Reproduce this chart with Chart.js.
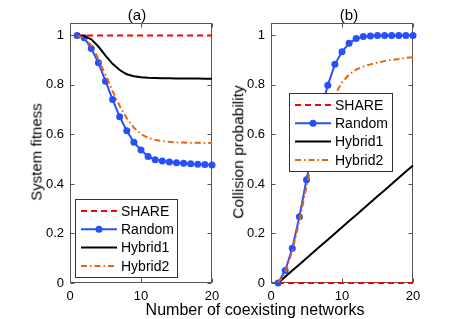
<!DOCTYPE html>
<html lang="en">
<head>
<meta charset="UTF-8">
<title>System fitness / Collision probability</title>
<script src="https://cdn.jsdelivr.net/npm/chart.js"></script>
<style>
  body { margin:0; background:#fff; width:457px; height:319px; overflow:hidden; position:relative;
         font-family:"Liberation Sans", Arial, sans-serif; color:#000; }
  canvas { position:absolute; top:0; }
  #chartA { left:0; }
  #chartB { left:230px; }
  .lbl { position:absolute; white-space:nowrap; line-height:1; transform:translate(-50%,-50%); }
  .rot { transform:translate(-50%,-50%) rotate(-90deg); }
</style>
</head>
<body>
<canvas id="chartA" width="230" height="319"></canvas>
<canvas id="chartB" width="227" height="319"></canvas>
<div class="lbl" style="left:137px; top:13.5px; font-size:15px">(a)</div>
<div class="lbl" style="left:349px; top:13.5px; font-size:15px">(b)</div>
<div class="lbl rot" style="left:35.5px; top:152px; font-size:15px">System fitness</div>
<div class="lbl rot" style="left:238px; top:152px; font-size:15.5px">Collision probability</div>
<div class="lbl" style="left:255px; top:309.5px; font-size:16px">Number of coexisting networks</div>

<script>
// number of coexisting networks
const xs = [1,2,3,4,5,6,7,8,9,10,11,12,13,14,15,16,17,18,19,20];

// (a) system fitness
const fitShare   = [1,1,1,1,1,1,1,1,1,1,1,1,1,1,1,1,1,1,1,1];
const fitRandom  = [1.0,0.99,0.947,0.889,0.815,0.741,0.671,0.615,0.568,0.537,0.511,0.498,0.493,0.489,0.486,0.484,0.482,0.480,0.479,0.477];
const fitHybrid1 = [1.0,0.997,0.984,0.955,0.918,0.885,0.860,0.843,0.835,0.831,0.829,0.828,0.827,0.827,0.826,0.826,0.826,0.826,0.825,0.825];
const fitHybrid2 = [1.0,0.99,0.96,0.905,0.84,0.775,0.715,0.665,0.627,0.601,0.586,0.578,0.573,0.570,0.568,0.567,0.566,0.566,0.565,0.565];

// (b) collision probability
const colShare   = [0,0,0,0,0,0,0,0,0,0,0,0,0,0,0,0,0,0,0,0];
const colRandom  = [0,0.05,0.14,0.268,0.417,0.56,0.69,0.799,0.883,0.934,0.968,0.987,0.995,0.998,1,1,1,1,1,1];
const colHybrid1 = [0,0.025,0.05,0.075,0.1,0.125,0.15,0.175,0.2,0.225,0.25,0.275,0.3,0.325,0.35,0.375,0.4,0.425,0.45,0.475];
const colHybrid2 = [0,0.04,0.13,0.25,0.39,0.52,0.62,0.70,0.76,0.81,0.842,0.862,0.874,0.883,0.89,0.896,0.901,0.905,0.909,0.912];

const xTicks = [0, 10, 20];
const yTicks = [0, 0.2, 0.4, 0.6, 0.8, 1];
const seriesNames = ['SHARE', 'Random', 'Hybrid1', 'Hybrid2'];

const FONT = '"Liberation Sans", Arial, sans-serif';
const RED = '#ff0000', BLUE = 'rgb(40,80,250)', BLACK = '#000', ORANGE = '#e2660e';

function pts(vals) { return xs.map((x, i) => ({ x: x, y: vals[i] })); }

function makeDatasets(share, random, hyb1, hyb2) {
    return [
        { label: seriesNames[0], data: pts(share), borderColor: RED, borderWidth: 2, borderDash: [6, 4], pointRadius: 0, order: 4 },
        { label: seriesNames[1], data: pts(random), borderColor: BLUE, backgroundColor: BLUE, borderWidth: 2, pointRadius: 3.5, pointBorderWidth: 0, pointBackgroundColor: BLUE, order: 3 },
        { label: seriesNames[2], data: pts(hyb1), borderColor: BLACK, borderWidth: 2, pointRadius: 0, order: 2 },
        { label: seriesNames[3], data: pts(hyb2), borderColor: ORANGE, borderWidth: 2, borderDash: [6, 3, 1.5, 3], pointRadius: 0, order: 1 }
    ];
}

// matlab style box with inward ticks
const framePlugin = {
    id: 'frame',
    beforeDatasetsDraw(chart) {
        const { ctx, chartArea: a, scales } = chart;
        const L = Math.round(a.left) + 0.5, R = Math.round(a.right) - 0.5;
        const T = Math.round(a.top) + 0.5, B = Math.round(a.bottom) - 0.5;
        ctx.save();
        ctx.strokeStyle = '#555';
        ctx.lineWidth = 1;
        ctx.strokeRect(L, T, R - L, B - T);
        ctx.beginPath();
        scales.x.ticks.forEach(t => {
            const px = Math.round(scales.x.getPixelForValue(t.value)) + 0.5;
            ctx.moveTo(px, B); ctx.lineTo(px, B - 4);
            ctx.moveTo(px, T); ctx.lineTo(px, T + 4);
        });
        scales.y.ticks.forEach(t => {
            const py = Math.round(scales.y.getPixelForValue(t.value)) + 0.5;
            ctx.moveTo(L, py); ctx.lineTo(L + 4, py);
            ctx.moveTo(R, py); ctx.lineTo(R - 4, py);
        });
        ctx.stroke();
        ctx.restore();
    }
};

// legend box inside the axes
const boxLegend = {
    id: 'boxLegend',
    afterDatasetsDraw(chart, args, opts) {
        const { ctx } = chart;
        const { x, y, w, h } = opts;
        ctx.save();
        ctx.fillStyle = '#fff';
        ctx.fillRect(x, y, w, h);
        ctx.strokeStyle = '#333';
        ctx.lineWidth = 1;
        ctx.strokeRect(x + 0.5, y + 0.5, w, h);
        ctx.font = '14px ' + FONT;
        ctx.textBaseline = 'middle';
        chart.data.datasets.forEach((ds, i) => {
            const cy = y + 12 + i * 18.3;
            ctx.strokeStyle = ds.borderColor;
            ctx.lineWidth = ds.borderWidth;
            ctx.setLineDash(ds.borderDash || []);
            ctx.beginPath();
            ctx.moveTo(x + 6, cy);
            ctx.lineTo(x + 42, cy);
            ctx.stroke();
            ctx.setLineDash([]);
            if (ds.pointRadius > 0) {
                ctx.fillStyle = ds.borderColor;
                ctx.beginPath();
                ctx.arc(x + 24, cy, ds.pointRadius, 0, Math.PI * 2);
                ctx.fill();
            }
            ctx.fillStyle = '#000';
            ctx.fillText(ds.label, x + 46, cy + 1);
        });
        ctx.restore();
    }
};

function makeConfig(datasets, yWidth, padRight, legendBox) {
    return {
        type: 'line',
        data: { datasets: datasets.map(d => Object.assign({ fill: false, tension: 0, clip: false }, d)) },
        options: {
            responsive: false,
            animation: false,
            layout: { padding: { top: 23, right: padRight, bottom: 0, left: 0 } },
            plugins: { legend: { display: false }, tooltip: { enabled: false }, boxLegend: legendBox },
            scales: {
                x: {
                    type: 'linear', min: 0, max: 20,
                    afterBuildTicks(s) { s.ticks = xTicks.map(v => ({ value: v })); },
                    ticks: { font: { family: FONT, size: 13 }, color: '#000', padding: 6, maxRotation: 0 },
                    grid: { display: false, drawTicks: false },
                    border: { display: false },
                    afterFit(s) { s.height = 36; }
                },
                y: {
                    type: 'linear', min: 0, max: 1.05,
                    afterBuildTicks(s) { s.ticks = yTicks.map(v => ({ value: v })); },
                    ticks: {
                        font: { family: FONT, size: 13 }, color: '#000', padding: 6,
                        callback: v => (v === 0 || v === 1) ? String(v) : v.toFixed(1)
                    },
                    grid: { display: false, drawTicks: false },
                    border: { display: false },
                    afterFit(s) { s.width = yWidth; }
                }
            }
        },
        plugins: [framePlugin, boxLegend]
    };
}

new Chart(document.getElementById('chartA'),
    makeConfig(makeDatasets(fitShare, fitRandom, fitHybrid1, fitHybrid2), 70, 18, { x: 75, y: 199, w: 102, h: 78 }));
new Chart(document.getElementById('chartB'),
    makeConfig(makeDatasets(colShare, colRandom, colHybrid1, colHybrid2), 41, 44, { x: 59, y: 93, w: 103, h: 78 }));
</script>
</body>
</html>
